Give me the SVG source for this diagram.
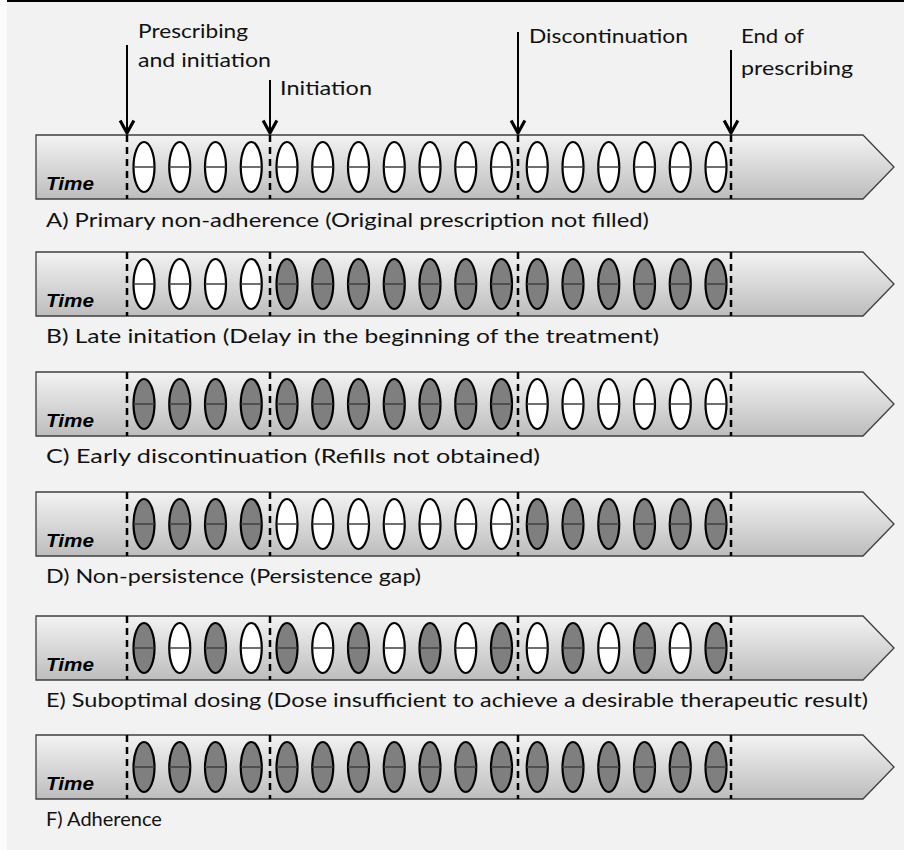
<svg xmlns="http://www.w3.org/2000/svg" xmlns:xlink="http://www.w3.org/1999/xlink" width="904" height="850" viewBox="0 0 904 850">
  <style>
    .head { font-family: Lato, "Liberation Sans", sans-serif; font-size: 20px; fill: #111111; }
    .label { font-family: Lato, "Liberation Sans", sans-serif; font-size: 20px; fill: #111111; }
    .time { font-family: "Liberation Sans", Arial, sans-serif; font-size: 19px; font-weight: bold; font-style: italic; fill: #000000; }
    .bar { fill: url(#barGrad); stroke: #3f3f3f; stroke-width: 1.3; }
    .mark { stroke: #000000; stroke-width: 2.5; stroke-dasharray: 7 5; fill: none; }
    .arrow { stroke: #000000; stroke-width: 2; fill: none; marker-end: url(#chevron); }
  </style>
  <defs>
    <linearGradient id="barGrad" x1="0" y1="0" x2="0" y2="1">
      <stop offset="0" stop-color="#f3f3f3"/>
      <stop offset="1" stop-color="#bdbdbd"/>
    </linearGradient>
    <marker id="chevron" markerUnits="userSpaceOnUse" markerWidth="20" markerHeight="20" viewBox="-12 -8 14 16" refX="0" refY="0" orient="auto" overflow="visible">
      <path d="M-10,-5.5 L0,0 L-10,5.5" fill="none" stroke="#000000" stroke-width="2.5"/>
    </marker>
    <!-- pill taken (white) and pill missed (grey), centred on 0,0 -->
    <g id="pw">
      <ellipse cx="0" cy="0" rx="10.5" ry="25" fill="#ffffff" stroke="#000000" stroke-width="2.2"/>
      <line x1="-10.5" y1="0" x2="10.5" y2="0" stroke="#3f3f3f" stroke-width="1.5"/>
    </g>
    <g id="pg">
      <ellipse cx="0" cy="0" rx="10.5" ry="25" fill="#7f7f7f" stroke="#000000" stroke-width="2.2"/>
      <line x1="-10.5" y1="0" x2="10.5" y2="0" stroke="#3f3f3f" stroke-width="1.5"/>
    </g>
    <!-- timeline bar with its four event marks and the Time caption -->
    <g id="timeline">
      <polygon class="bar" points="36,0 863,0 894,32 863,64 36,64"/>
      <line class="mark" x1="127" y1="0" x2="127" y2="64"/>
      <line class="mark" x1="270" y1="0" x2="270" y2="64"/>
      <line class="mark" x1="518" y1="0" x2="518" y2="64"/>
      <line class="mark" x1="731" y1="0" x2="731" y2="64"/>
      <text class="time" x="46" y="55" textLength="48" lengthAdjust="spacingAndGlyphs">Time</text>
    </g>
  </defs>

  <!-- page background -->
  <rect x="0" y="0" width="904" height="850" fill="#fbfbfb"/>
  <rect x="7" y="0" width="897" height="850" fill="#f2f2f2"/>
  <rect x="7" y="0" width="897" height="2" fill="#000000"/>

  <!-- event captions -->
  <g id="captions">
    <text class="head" x="138" y="38" textLength="110" lengthAdjust="spacingAndGlyphs">Prescribing</text>
    <text class="head" x="138" y="67" textLength="133" lengthAdjust="spacingAndGlyphs">and initiation</text>
    <text class="head" x="280" y="95" textLength="92" lengthAdjust="spacingAndGlyphs">Initiation</text>
    <text class="head" x="529" y="43" textLength="159" lengthAdjust="spacingAndGlyphs">Discontinuation</text>
    <text class="head" x="741" y="43" textLength="63" lengthAdjust="spacingAndGlyphs">End of</text>
    <text class="head" x="741" y="75" textLength="112" lengthAdjust="spacingAndGlyphs">prescribing</text>
  </g>

  <!-- event arrows -->
  <g id="connectors">
    <line class="arrow" x1="127" y1="45" x2="127" y2="133"/>
    <line class="arrow" x1="270" y1="80" x2="270" y2="133"/>
    <line class="arrow" x1="518" y1="32" x2="518" y2="133"/>
    <line class="arrow" x1="731" y1="50" x2="731" y2="133"/>
  </g>

  <!-- A: all doses untaken -->
  <g id="rowA" transform="translate(0,135)">
    <use href="#timeline"/>
    <use href="#pw" x="144" y="32"/><use href="#pw" x="179.75" y="32"/><use href="#pw" x="215.5" y="32"/><use href="#pw" x="251.25" y="32"/>
    <use href="#pw" x="287" y="32"/><use href="#pw" x="322.75" y="32"/><use href="#pw" x="358.5" y="32"/><use href="#pw" x="394.25" y="32"/><use href="#pw" x="430" y="32"/><use href="#pw" x="465.75" y="32"/><use href="#pw" x="501.5" y="32"/>
    <use href="#pw" x="537.25" y="32"/><use href="#pw" x="573" y="32"/><use href="#pw" x="608.75" y="32"/><use href="#pw" x="644.5" y="32"/><use href="#pw" x="680.25" y="32"/><use href="#pw" x="716" y="32"/>
    <text class="label" x="46" y="92" textLength="603" lengthAdjust="spacingAndGlyphs">A) Primary non-adherence (Original prescription not filled)</text>
  </g>

  <!-- B: late initiation -->
  <g id="rowB" transform="translate(0,252)">
    <use href="#timeline"/>
    <use href="#pw" x="144" y="32"/><use href="#pw" x="179.75" y="32"/><use href="#pw" x="215.5" y="32"/><use href="#pw" x="251.25" y="32"/>
    <use href="#pg" x="287" y="32"/><use href="#pg" x="322.75" y="32"/><use href="#pg" x="358.5" y="32"/><use href="#pg" x="394.25" y="32"/><use href="#pg" x="430" y="32"/><use href="#pg" x="465.75" y="32"/><use href="#pg" x="501.5" y="32"/>
    <use href="#pg" x="537.25" y="32"/><use href="#pg" x="573" y="32"/><use href="#pg" x="608.75" y="32"/><use href="#pg" x="644.5" y="32"/><use href="#pg" x="680.25" y="32"/><use href="#pg" x="716" y="32"/>
    <text class="label" x="46" y="91" textLength="613" lengthAdjust="spacingAndGlyphs">B) Late initation (Delay in the beginning of the treatment)</text>
  </g>

  <!-- C: early discontinuation -->
  <g id="rowC" transform="translate(0,372)">
    <use href="#timeline"/>
    <use href="#pg" x="144" y="32"/><use href="#pg" x="179.75" y="32"/><use href="#pg" x="215.5" y="32"/><use href="#pg" x="251.25" y="32"/>
    <use href="#pg" x="287" y="32"/><use href="#pg" x="322.75" y="32"/><use href="#pg" x="358.5" y="32"/><use href="#pg" x="394.25" y="32"/><use href="#pg" x="430" y="32"/><use href="#pg" x="465.75" y="32"/><use href="#pg" x="501.5" y="32"/>
    <use href="#pw" x="537.25" y="32"/><use href="#pw" x="573" y="32"/><use href="#pw" x="608.75" y="32"/><use href="#pw" x="644.5" y="32"/><use href="#pw" x="680.25" y="32"/><use href="#pw" x="716" y="32"/>
    <text class="label" x="46" y="91" textLength="494" lengthAdjust="spacingAndGlyphs">C) Early discontinuation (Refills not obtained)</text>
  </g>

  <!-- D: persistence gap -->
  <g id="rowD" transform="translate(0,492)">
    <use href="#timeline"/>
    <use href="#pg" x="144" y="32"/><use href="#pg" x="179.75" y="32"/><use href="#pg" x="215.5" y="32"/><use href="#pg" x="251.25" y="32"/>
    <use href="#pw" x="287" y="32"/><use href="#pw" x="322.75" y="32"/><use href="#pw" x="358.5" y="32"/><use href="#pw" x="394.25" y="32"/><use href="#pw" x="430" y="32"/><use href="#pw" x="465.75" y="32"/><use href="#pw" x="501.5" y="32"/>
    <use href="#pg" x="537.25" y="32"/><use href="#pg" x="573" y="32"/><use href="#pg" x="608.75" y="32"/><use href="#pg" x="644.5" y="32"/><use href="#pg" x="680.25" y="32"/><use href="#pg" x="716" y="32"/>
    <text class="label" x="46" y="91" textLength="375" lengthAdjust="spacingAndGlyphs">D) Non-persistence (Persistence gap)</text>
  </g>

  <!-- E: suboptimal dosing, alternating -->
  <g id="rowE" transform="translate(0,616)">
    <use href="#timeline"/>
    <use href="#pg" x="144" y="32"/><use href="#pw" x="179.75" y="32"/><use href="#pg" x="215.5" y="32"/><use href="#pw" x="251.25" y="32"/>
    <use href="#pg" x="287" y="32"/><use href="#pw" x="322.75" y="32"/><use href="#pg" x="358.5" y="32"/><use href="#pw" x="394.25" y="32"/><use href="#pg" x="430" y="32"/><use href="#pw" x="465.75" y="32"/><use href="#pg" x="501.5" y="32"/>
    <use href="#pw" x="537.25" y="32"/><use href="#pg" x="573" y="32"/><use href="#pw" x="608.75" y="32"/><use href="#pg" x="644.5" y="32"/><use href="#pw" x="680.25" y="32"/><use href="#pg" x="716" y="32"/>
    <text class="label" x="46" y="91" textLength="822" lengthAdjust="spacingAndGlyphs">E) Suboptimal dosing (Dose insufficient to achieve a desirable therapeutic result)</text>
  </g>

  <!-- F: adherence -->
  <g id="rowF" transform="translate(0,735)">
    <use href="#timeline"/>
    <use href="#pg" x="144" y="32"/><use href="#pg" x="179.75" y="32"/><use href="#pg" x="215.5" y="32"/><use href="#pg" x="251.25" y="32"/>
    <use href="#pg" x="287" y="32"/><use href="#pg" x="322.75" y="32"/><use href="#pg" x="358.5" y="32"/><use href="#pg" x="394.25" y="32"/><use href="#pg" x="430" y="32"/><use href="#pg" x="465.75" y="32"/><use href="#pg" x="501.5" y="32"/>
    <use href="#pg" x="537.25" y="32"/><use href="#pg" x="573" y="32"/><use href="#pg" x="608.75" y="32"/><use href="#pg" x="644.5" y="32"/><use href="#pg" x="680.25" y="32"/><use href="#pg" x="716" y="32"/>
    <text class="label" x="46" y="91">F) Adherence</text>
  </g>
</svg>
